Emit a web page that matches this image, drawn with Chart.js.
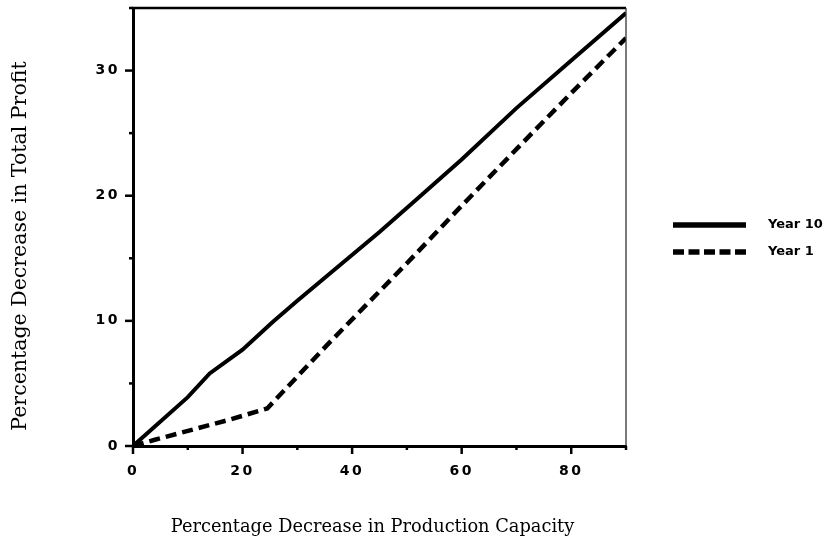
<!DOCTYPE html>
<html>
<head>
<meta charset="utf-8">
<script src="https://cdn.jsdelivr.net/npm/chart.js@4/dist/chart.umd.min.js"></script>
<style>
html,body{margin:0;padding:0;background:#fff;}
#wrap{width:824px;height:539px;position:relative;}
</style>
</head>
<body>
<div id="wrap"><canvas id="c" width="824" height="539"></canvas></div>
<script>
// ---- data ----
const seriesNames = ["Year 10", "Year 1"];
const year10X = [0, 10, 14, 20, 25.5, 30, 36, 45, 52, 60, 70, 80, 90];
const year10Y = [0, 3.9, 5.8, 7.7, 9.9, 11.6, 13.8, 17.1, 19.8, 22.9, 27.0, 30.8, 34.6];
const year1X = [0, 4, 17.6, 24.5, 35.5, 50, 60, 70.4, 80, 90];
const year1Y = [0, 0.5, 2.1, 3.0, 8.1, 14.6, 19.2, 23.9, 28.2, 32.6];
const xTickValues = [0, 10, 20, 30, 40, 50, 60, 70, 80, 90];
const xTickLabels = ["0", "", "20", "", "40", "", "60", "", "80", ""];
const yTickValues = [0, 5, 10, 15, 20, 25, 30, 35];
const yTickLabels = ["0", "", "10", "", "20", "", "30", ""];
const xTitle = "Percentage Decrease in Production Capacity";
const yTitle = "Percentage Decrease in Total Profit";

const pts = (xs, ys) => xs.map((x, i) => ({x: x, y: ys[i]}));

const SANS = "'DejaVu Sans', sans-serif";
const SERIF = "'DejaVu Serif', serif";

const decorPlugin = {
  id: 'decor',
  beforeDraw(chart) { chart.ctx.letterSpacing = '2.5px'; },
  beforeDatasetsDraw(chart) { chart.ctx.letterSpacing = '0px'; },
  afterDraw(chart) {
    const ctx = chart.ctx;
    const ca = chart.chartArea;
    ctx.save();
    ctx.letterSpacing = '0px';
    // top and right frame
    ctx.strokeStyle = '#000';
    ctx.lineWidth = 2.5;
    ctx.beginPath(); ctx.moveTo(ca.left - 1.5, ca.top); ctx.lineTo(ca.right, ca.top); ctx.stroke();
    ctx.strokeStyle = '#333';
    ctx.lineWidth = 1.3;
    ctx.beginPath(); ctx.moveTo(ca.right, ca.top); ctx.lineTo(ca.right, ca.bottom); ctx.stroke();
    // tick marks
    ctx.strokeStyle = '#000';
    ctx.lineWidth = 2.5;
    const xs = chart.scales.x, ys = chart.scales.y;
    xs.ticks.forEach((t, i) => {
      const px = xs.getPixelForValue(t.value);
      const len = xTickLabels[i] !== "" ? 8 : 4;
      ctx.beginPath(); ctx.moveTo(px, ca.bottom); ctx.lineTo(px, ca.bottom + len); ctx.stroke();
    });
    ys.ticks.forEach((t, i) => {
      const py = ys.getPixelForValue(t.value);
      const len = yTickLabels[i] !== "" ? 8 : 4;
      ctx.beginPath(); ctx.moveTo(ca.left, py); ctx.lineTo(ca.left - len, py); ctx.stroke();
    });
    // axis titles
    ctx.fillStyle = '#000';
    ctx.font = "17.8px " + SERIF;
    ctx.textAlign = 'center';
    ctx.textBaseline = 'alphabetic';
    ctx.fillText(xTitle, (ca.left + ca.right) / 2 - 7, 532);
    ctx.save();
    ctx.translate(26, (ca.top + ca.bottom) / 2 + 19);
    ctx.rotate(-Math.PI / 2);
    ctx.font = "20.5px " + SERIF;
    ctx.fillText(yTitle, 0, 0);
    ctx.restore();
    // legend
    const lx0 = 673, lx1 = 746, tx = 768;
    const rows = [225, 252];
    chart.data.datasets.forEach((ds, i) => {
      const y = rows[i];
      ctx.strokeStyle = ds.borderColor;
      ctx.lineWidth = 5.5;
      ctx.setLineDash(ds.borderDash ? [11, 4.5] : []);
      ctx.beginPath(); ctx.moveTo(lx0, y); ctx.lineTo(lx1, y); ctx.stroke();
      ctx.setLineDash([]);
      ctx.fillStyle = '#000';
      ctx.font = "bold 13px " + SANS;
      ctx.textBaseline = 'middle';
      ctx.textAlign = 'left';
      ctx.fillText(ds.label, tx, y);
    });
    ctx.restore();
  }
};

new Chart(document.getElementById('c'), {
  type: 'line',
  data: {
    datasets: [
      {label: seriesNames[0], data: pts(year10X, year10Y), borderColor: '#000', borderWidth: 4, pointRadius: 0, tension: 0, fill: false},
      {label: seriesNames[1], data: pts(year1X, year1Y), borderColor: '#000', borderWidth: 4.5, borderDash: [11, 6], pointRadius: 0, tension: 0, fill: false}
    ]
  },
  options: {
    responsive: false,
    animation: false,
    layout: {padding: {left: 0, right: 198, top: 8, bottom: 0}},
    plugins: {legend: {display: false}, tooltip: {enabled: false}},
    scales: {
      x: {
        type: 'linear', min: 0, max: 90,
        afterBuildTicks: s => { s.ticks = xTickValues.map(v => ({value: v})); },
        afterFit: s => { s.height = 93; s.paddingLeft = 0; s.paddingRight = 0; },
        ticks: {autoSkip: false, maxRotation: 0, padding: 17, color: '#000', font: {family: SANS, size: 14, weight: 'bold'},
          callback: (v) => { const i = xTickValues.indexOf(v); return i >= 0 ? xTickLabels[i] : ''; }},
        grid: {display: false, drawTicks: false},
        border: {display: true, color: '#000', width: 3}
      },
      y: {
        type: 'linear', min: 0, max: 35,
        afterBuildTicks: s => { s.ticks = yTickValues.map(v => ({value: v})); },
        afterFit: s => { s.width = 133; s.paddingTop = 0; s.paddingBottom = 0; },
        ticks: {autoSkip: false, padding: 13, color: '#000', font: {family: SANS, size: 14, weight: 'bold'},
          callback: (v) => { const i = yTickValues.indexOf(v); return i >= 0 ? yTickLabels[i] : ''; }},
        grid: {display: false, drawTicks: false},
        border: {display: true, color: '#000', width: 3}
      }
    }
  },
  plugins: [decorPlugin]
});
</script>
</body>
</html>
